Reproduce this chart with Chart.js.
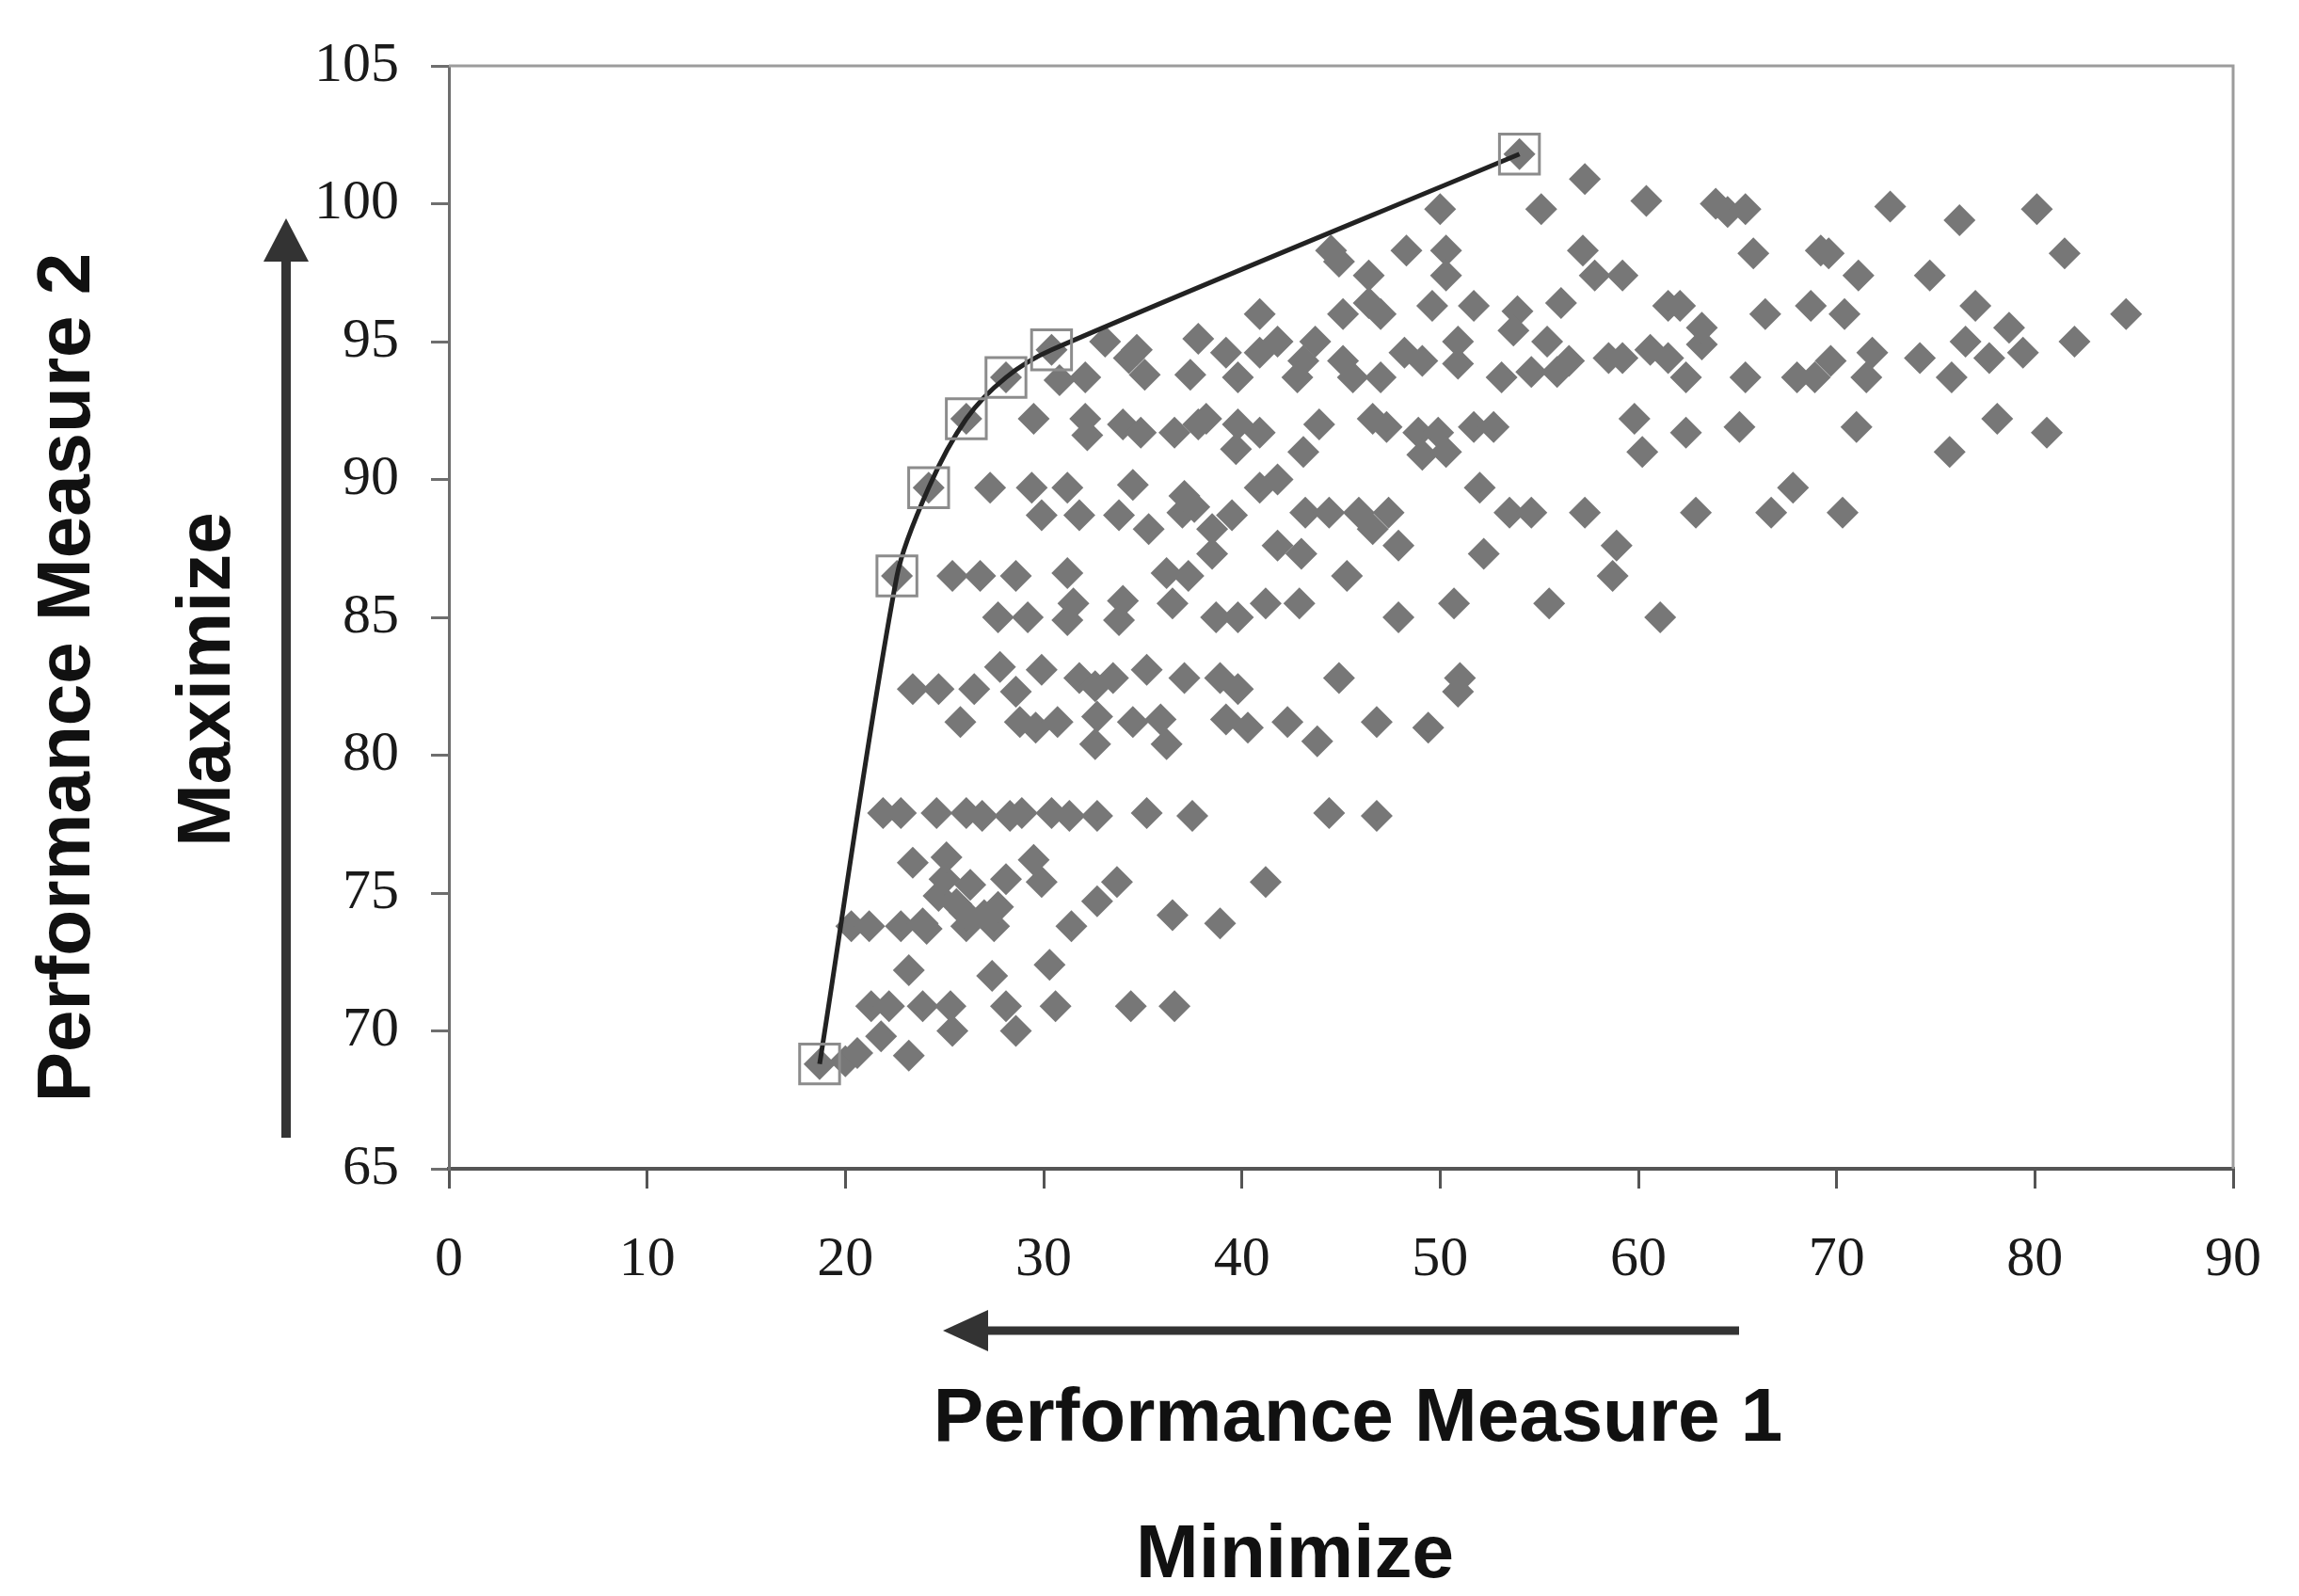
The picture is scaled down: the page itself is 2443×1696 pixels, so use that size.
<!DOCTYPE html>
<html lang="en">
<head>
    <meta charset="UTF-8">
    <title>Performance Measure Trade-off</title>
    <style>
        html, body {
            margin: 0;
            padding: 0;
            background: #ffffff;
        }
        #wrap {
            position: relative;
            width: 2443px;
            height: 1696px;
        }
    </style>
    <script src="https://cdn.jsdelivr.net/npm/chart.js@4.4.1/dist/chart.umd.min.js"></script>
</head>
<body>
    <div id="wrap"><canvas id="paretoChart"></canvas></div>

    <script>
        // non-dominated (frontier) solutions
        const paretoX = [18.7, 22.6, 24.2, 26.1, 28.1, 30.4, 54.0];
        const paretoY = [68.8, 86.5, 89.7, 92.2, 93.7, 94.7, 101.8];

        // all evaluated solutions, read band by band from bottom to top
        const solutionX = [
            18.7, 20.0, 20.6, 23.2, 21.8, 25.4, 28.6,
            21.3, 22.2, 23.9, 25.3, 28.1, 30.6, 34.4, 36.6,
            23.2, 27.4, 30.3,
            20.3, 21.2, 22.8, 23.9, 24.1, 25.6, 26.1, 27.5, 27.7, 31.4, 36.5, 38.9,
            24.7, 26.0, 27.0, 25.0, 26.3, 28.1, 29.9, 33.7, 32.7, 41.2,
            23.4, 25.1, 29.5,
            21.9, 22.8, 24.6, 26.1, 26.9, 28.3, 28.9, 30.4, 31.3, 32.7, 35.2, 37.5, 44.4, 46.8,
            25.8, 28.8, 29.6, 30.7, 32.7, 32.6, 34.5, 35.9, 36.2, 39.2, 40.3, 42.3, 43.8, 46.8, 49.4,
            23.4, 24.7, 26.5, 27.8, 28.6, 29.9, 31.8, 32.6, 33.5, 35.2, 37.1, 38.9, 39.8, 44.9, 51.0, 50.9,
            27.7, 29.2, 31.5, 31.2, 34.0, 33.8, 36.5, 38.7, 39.8, 41.2, 42.9, 47.9, 50.7, 55.5, 61.1,
            22.6, 25.4, 26.8, 28.6, 31.2, 36.2, 37.3, 45.3, 58.7,
            38.5, 41.8, 43.0, 47.9, 52.2, 58.9,
            29.9, 31.8, 33.8, 35.3, 37.0, 37.6, 38.5, 39.5, 43.2, 44.4, 45.9, 47.4, 46.6, 53.5, 54.6, 57.3, 62.9, 66.7, 70.3,
            24.2, 27.3, 29.4, 31.2, 34.5, 37.1, 40.9, 41.8, 52.0, 67.8,
            26.1, 29.5, 32.1, 32.2, 34.0, 34.9, 36.6, 37.8, 38.2, 39.7, 39.8, 40.9, 43.9, 43.1, 46.6, 47.3,
            48.9, 49.9, 49.1, 50.3, 51.7, 52.7, 59.8, 60.2, 62.4, 65.1, 71.0, 78.1, 80.6, 75.7,
            28.1, 30.4, 30.8, 32.1, 33.1, 34.7, 34.3, 35.1, 37.8, 37.4, 39.2, 39.8, 40.9, 41.8, 43.7, 43.1,
            42.8, 45.1, 45.6, 47.0, 48.2, 49.1, 50.9, 50.9, 53.1, 54.6, 55.9, 56.5, 55.4, 58.5, 59.2, 60.6,
            61.5, 62.4, 63.2, 63.2, 65.4, 68.0, 68.9, 69.7, 71.5, 71.8, 74.2, 75.8, 76.5, 77.7, 79.4, 82.0, 78.7,
            40.9, 45.1, 46.4, 47.0, 49.6, 51.7, 53.9, 53.7, 56.1, 61.5, 62.1, 66.4, 68.7, 70.4, 77.0, 84.6,
            44.5, 44.9, 46.4, 48.3, 50.3, 50.3, 57.2, 57.8, 59.2, 65.8, 69.2, 69.6, 71.1, 74.7, 81.5,
            50.0, 55.1, 57.3, 60.4, 63.9, 64.5, 65.4, 72.7, 76.2, 80.1, 54.0
        ];
        const solutionY = [
            68.8, 68.9, 69.2, 69.1, 69.8, 70.0, 70.0,
            70.9, 70.9, 70.9, 70.9, 70.9, 70.9, 70.9, 70.9,
            72.2, 72.0, 72.4,
            73.8, 73.8, 73.8, 73.9, 73.7, 74.6, 73.8, 73.8, 74.5, 73.8, 74.2, 73.9,
            74.9, 74.3, 74.2, 75.5, 75.3, 75.5, 75.4, 75.4, 74.7, 75.4,
            76.1, 76.3, 76.2,
            77.9, 77.9, 77.9, 77.9, 77.8, 77.8, 77.9, 77.9, 77.8, 77.8, 77.9, 77.8, 77.9, 77.8,
            81.2, 81.2, 81.0, 81.2, 81.4, 80.4, 81.2, 81.3, 80.4, 81.3, 81.0, 81.2, 80.5, 81.2, 81.0,
            82.4, 82.4, 82.4, 83.2, 82.3, 83.1, 82.8, 82.5, 82.8, 83.1, 82.8, 82.8, 82.4, 82.8, 82.8, 82.3,
            85.0, 85.0, 85.5, 84.9, 85.6, 84.9, 85.5, 85.0, 85.0, 85.5, 85.5, 85.0, 85.5, 85.5, 85.0,
            86.5, 86.5, 86.5, 86.5, 86.6, 86.6, 86.5, 86.5, 86.5,
            87.3, 87.6, 87.3, 87.6, 87.3, 87.6,
            88.7, 88.7, 88.7, 88.2, 88.8, 89.0, 88.2, 88.7, 88.8, 88.8, 88.8, 88.8, 88.2, 88.8, 88.8, 88.8, 88.8, 88.8, 88.8,
            89.7, 89.7, 89.7, 89.7, 89.8, 89.4, 89.7, 90.0, 89.7, 89.7,
            92.2, 92.2, 92.2, 91.6, 92.0, 91.7, 91.7, 92.0, 92.2, 91.1, 92.0, 91.7, 92.0, 91.0, 92.2, 91.9,
            91.7, 91.7, 90.9, 91.0, 91.9, 91.9, 92.2, 91.0, 91.7, 91.9, 91.9, 92.2, 91.7, 91.0,
            93.7, 94.7, 93.6, 93.7, 95.0, 94.7, 94.4, 93.8, 95.1, 93.8, 94.6, 93.7, 94.6, 95.0, 95.0, 94.3,
            93.7, 94.3, 93.7, 93.7, 94.6, 94.3, 95.0, 94.2, 93.7, 93.9, 93.9, 94.3, 95.0, 94.4, 94.4, 94.7,
            94.4, 93.7, 94.9, 95.5, 93.7, 93.7, 93.7, 94.3, 93.7, 94.6, 94.4, 93.7, 95.0, 94.4, 94.6, 95.0, 95.5,
            96.0, 96.0, 96.4, 96.0, 96.3, 96.3, 96.1, 95.4, 96.4, 96.3, 96.3, 96.0, 96.3, 96.0, 96.3, 96.0,
            98.3, 97.9, 97.4, 98.3, 98.3, 97.4, 98.3, 97.4, 97.4, 98.2, 98.3, 98.2, 97.4, 97.4, 98.2,
            99.8, 99.8, 100.9, 100.1, 100.0, 99.7, 99.8, 99.9, 99.4, 99.8, 101.8
        ];

        const solutions = solutionX.map((x, i) => ({ x: x, y: solutionY[i] }));
        const frontier = paretoX.map((x, i) => ({ x: x, y: paretoY[i] }));

        // light frame on the top and right of the plot area
        const frameLines = {
            id: 'frameLines',
            beforeDatasetsDraw(chart) {
                const { ctx, chartArea } = chart;
                ctx.save();
                ctx.strokeStyle = '#9c9c9c';
                ctx.lineWidth = 3;
                ctx.beginPath();
                ctx.moveTo(chartArea.left, chartArea.top);
                ctx.lineTo(chartArea.right, chartArea.top);
                ctx.lineTo(chartArea.right, chartArea.bottom);
                ctx.stroke();
                ctx.restore();
            }
        };

        function drawArrow(ctx, x1, y1, x2, y2, head, half, width) {
            const ang = Math.atan2(y2 - y1, x2 - x1);
            const bx = x2 - Math.cos(ang) * head;
            const by = y2 - Math.sin(ang) * head;
            ctx.lineWidth = width;
            ctx.beginPath();
            ctx.moveTo(x1, y1);
            ctx.lineTo(bx, by);
            ctx.stroke();
            ctx.beginPath();
            ctx.moveTo(x2, y2);
            ctx.lineTo(bx + Math.sin(ang) * half, by - Math.cos(ang) * half);
            ctx.lineTo(bx - Math.sin(ang) * half, by + Math.cos(ang) * half);
            ctx.closePath();
            ctx.fill();
        }

        // arrows and the axis captions
        const captions = {
            id: 'captions',
            afterDraw(chart) {
                const ctx = chart.ctx;
                ctx.save();
                ctx.strokeStyle = '#333333';
                ctx.fillStyle = '#333333';
                drawArrow(ctx, 304, 1209, 304, 232, 46, 24, 10);
                drawArrow(ctx, 1848, 1414, 1002, 1414, 48, 22, 9);

                ctx.fillStyle = '#111111';
                ctx.font = 'bold 80px "Liberation Sans", Arial, sans-serif';
                ctx.textAlign = 'center';
                ctx.textBaseline = 'alphabetic';
                ctx.fillText('Performance Measure 1', 1443, 1531);
                ctx.fillText('Minimize', 1376, 1676);

                ctx.translate(95, 720);
                ctx.rotate(-Math.PI / 2);
                ctx.fillText('Performance Measure 2', 0, 0);
                ctx.restore();

                ctx.save();
                ctx.fillStyle = '#111111';
                ctx.font = 'bold 80px "Liberation Sans", Arial, sans-serif';
                ctx.textAlign = 'center';
                ctx.translate(244, 722);
                ctx.rotate(-Math.PI / 2);
                ctx.fillText('Maximize', 0, 0);
                ctx.restore();
            }
        };

        const tickFont = { family: '"Liberation Serif", "Times New Roman", serif', size: 60 };

        new Chart(document.getElementById('paretoChart'), {
            type: 'scatter',
            data: {
                datasets: [
                    {
                        label: 'Pareto front',
                        data: frontier,
                        showLine: true,
                        tension: 0.3,
                        borderColor: '#222222',
                        borderWidth: 5,
                        pointStyle: 'rect',
                        pointRadius: 30,
                        pointBackgroundColor: 'rgba(0,0,0,0)',
                        pointBorderColor: '#8c8c8c',
                        pointBorderWidth: 3
                    },
                    {
                        label: 'Solutions',
                        data: solutions,
                        pointStyle: 'rectRot',
                        pointRadius: 17,
                        pointBackgroundColor: '#777777',
                        pointBorderWidth: 0
                    }
                ]
            },
            options: {
                responsive: true,
                maintainAspectRatio: false,
                animation: false,
                layout: {
                    padding: { left: 0, top: 51, right: 60, bottom: 0 }
                },
                plugins: {
                    legend: { display: false },
                    tooltip: { enabled: false }
                },
                scales: {
                    x: {
                        type: 'linear',
                        min: 0,
                        max: 90,
                        ticks: {
                            stepSize: 10,
                            padding: 40,
                            color: '#1a1a1a',
                            font: tickFont
                        },
                        grid: {
                            drawOnChartArea: false,
                            tickLength: 21,
                            lineWidth: 3,
                            color: '#555555'
                        },
                        border: { color: '#555555', width: 4 },
                        afterFit(scale) { scale.height = 454; }
                    },
                    y: {
                        type: 'linear',
                        min: 65,
                        max: 105,
                        ticks: {
                            stepSize: 5,
                            padding: 34,
                            color: '#1a1a1a',
                            font: tickFont
                        },
                        grid: {
                            drawOnChartArea: false,
                            tickLength: 19,
                            lineWidth: 3,
                            color: '#6e6e6e'
                        },
                        border: { color: '#6e6e6e', width: 3 },
                        afterFit(scale) { scale.width = 477; }
                    }
                }
            },
            plugins: [frameLines, captions]
        });
    </script>
</body>
</html>
